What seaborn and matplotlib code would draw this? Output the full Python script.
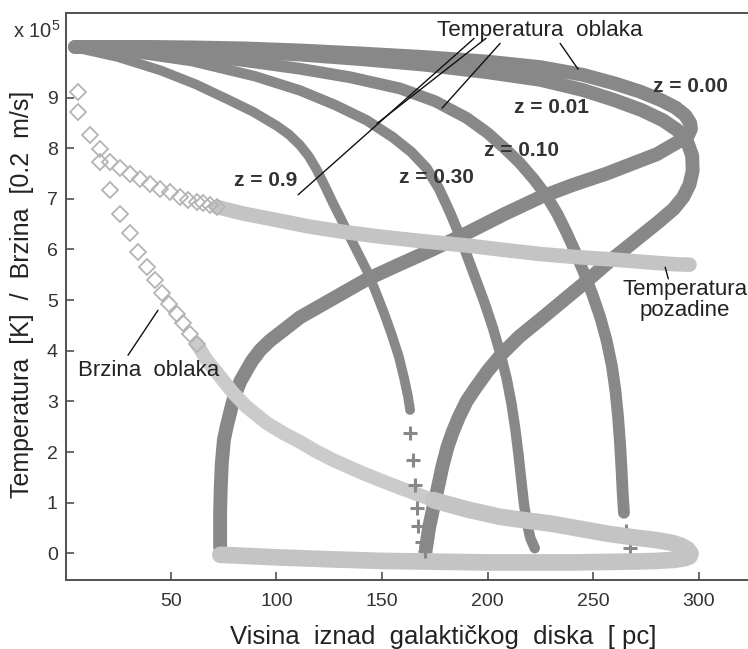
import matplotlib
matplotlib.use("Agg")
import matplotlib.pyplot as plt
import seaborn as sns

# ---------------- data (temperature / velocity in units of 1e5) ----------------
# cloud temperature, z = 0.00 (goes round the loop and returns to ~73 pc)
z000_x = [4.7, 20, 40, 60, 85, 111, 140, 170, 200, 225, 245, 260, 272, 282, 289, 293.5,
          295.8, 296.2, 295, 292, 287, 280, 270, 256.4, 240, 224.8, 208, 190, 174,
          158.5, 142.8, 126.8, 111.2, 103.2, 97, 92.3, 88.5, 86.0, 83, 80.9, 79.3,
          78.1, 76.5, 75.2, 74.2, 73.7, 73.4, 73.4]
z000_y = [10.0, 10.0, 10.0, 9.99, 9.97, 9.93, 9.87, 9.80, 9.71, 9.60, 9.45, 9.28, 9.12,
          8.95, 8.80, 8.65, 8.50, 8.38, 8.27, 8.17, 8.05, 7.88, 7.72, 7.50, 7.27, 7.03,
          6.70, 6.32, 6.00, 5.71, 5.41, 5.03, 4.66, 4.40, 4.20, 4.01, 3.80, 3.62, 3.40,
          3.18, 2.97, 2.77, 2.50, 2.24, 1.78, 1.30, 0.80, 0.12]
# z = 0.01 (loop, returns to ~171 pc)
z001_x = [4.7, 30, 60, 85, 111, 140, 170, 200, 225, 245, 260, 273, 283, 290, 294.5,
          296.8, 297, 295.5, 292.5, 288, 281, 270, 258, 247, 236, 225, 215, 207, 200,
          194, 190, 186.5, 183.5, 181, 178.5, 176.2, 174.3, 172.4, 170.8]
z001_y = [10.0, 9.99, 9.95, 9.91, 9.85, 9.76, 9.65, 9.50, 9.35, 9.15, 8.95, 8.75, 8.55,
          8.35, 8.12, 7.85, 7.55, 7.28, 7.03, 6.80, 6.55, 6.18, 5.78, 5.38, 5.00, 4.62,
          4.28, 3.95, 3.60, 3.25, 3.00, 2.70, 2.40, 2.10, 1.70, 1.25, 0.90, 0.53, 0.10]
# z = 0.10
z010_x = [4.7, 30, 60, 85, 111, 135, 158.5, 175, 190, 200, 208, 215, 222, 228, 233,
          237.5, 241.5, 245.5, 249.5, 253.2, 256.3, 258.8, 260.5, 261.7, 262.6, 263.3,
          263.9, 264.5]
z010_y = [10.0, 9.94, 9.84, 9.72, 9.57, 9.40, 9.18, 8.93, 8.60, 8.30, 8.00, 7.72, 7.38,
          7.05, 6.70, 6.32, 5.95, 5.55, 5.12, 4.67, 4.20, 3.70, 3.20, 2.70, 2.20, 1.70,
          1.20, 0.80]
z010_tail_x = [265.6, 267.2]
z010_tail_y = [0.45, 0.1]
# z = 0.30
z030_x = [4.7, 30, 60, 90, 111.2, 128, 142.8, 155, 164, 171.2, 177, 182, 186.5, 190.5,
          194.5, 198.5, 202.5, 206, 209, 211.3, 213.1, 214.6, 215.9, 217.1, 218.5,
          220.2, 222.3]
z030_y = [10.0, 9.90, 9.72, 9.42, 9.14, 8.85, 8.55, 8.22, 7.92, 7.60, 7.20, 6.75, 6.30,
          5.85, 5.40, 4.95, 4.45, 3.95, 3.45, 2.95, 2.45, 1.95, 1.45, 1.00, 0.62, 0.30,
          0.10]
# z = 0.9
z09_x = [4.7, 25, 45, 62, 76.7, 89, 100.3, 106, 111.2, 115.2, 118.8, 123, 127, 131,
         135, 139, 143, 147, 151, 154.5, 158, 160.5, 162.3, 163.3]
z09_y = [9.99, 9.80, 9.54, 9.26, 8.97, 8.72, 8.44, 8.27, 8.06, 7.85, 7.60, 7.25, 6.90,
         6.57, 6.23, 5.90, 5.57, 5.17, 4.74, 4.33, 3.88, 3.45, 3.10, 2.83]
z09_tail_x = [163.3, 164.7, 165.6, 166.4, 167.2, 168.8, 170.4]
z09_tail_y = [2.37, 1.84, 1.35, 0.90, 0.53, 0.23, 0.04]

# cloud velocity (open diamonds, then dense band that loops back near 0)
vel_d_x = [6.3, 11.8, 16.6, 21.3, 26.0, 30.8, 34.7, 38.7, 42.6, 45.8, 49.2, 52.9,
           56.0, 59.2, 62.3]
vel_d_y = [9.11, 8.26, 7.73, 7.17, 6.70, 6.32, 5.95, 5.66, 5.39, 5.15, 4.92, 4.73,
           4.54, 4.34, 4.14]
vel_a_x = [62.3, 67.0, 73.4, 79.7, 86.0, 95.5, 103, 111.2, 119, 127.0, 135, 142.8, 158,
           174.3]
vel_a_y = [4.14, 3.82, 3.49, 3.16, 2.89, 2.57, 2.38, 2.20, 2.01, 1.84, 1.69, 1.55, 1.30,
           1.05]
vel_b_x = [174.3, 190, 205.9, 218, 229.5, 243, 256.4, 270, 280, 287, 291.5, 294.5, 296,
           295.5, 293, 288, 280, 272, 240, 200, 150, 127, 100, 80, 73.5]
vel_b_y = [1.05, 0.87, 0.72, 0.65, 0.59, 0.49, 0.39, 0.31, 0.26, 0.21, 0.15, 0.08, 0.0,
           -0.06, -0.10, -0.13, -0.15, -0.16, -0.18, -0.18, -0.15, -0.12, -0.08, -0.04,
           -0.03]

# background temperature
bg_d_x = [6.3, 16.6, 21.3, 26.0, 30.8, 35.5, 40.2, 45.0, 49.7, 54.4, 58.4, 62.3, 65.4,
          68.6, 71.8]
bg_d_y = [8.72, 7.99, 7.72, 7.60, 7.50, 7.40, 7.30, 7.20, 7.14, 7.04, 6.98, 6.94,
          6.91, 6.87, 6.84]
bg_x = [71.8, 84.4, 100.2, 116, 133, 150, 170, 190, 208, 225, 242, 260, 275, 288, 295.5]
bg_y = [6.84, 6.71, 6.58, 6.45, 6.34, 6.25, 6.16, 6.08, 5.99, 5.91, 5.85, 5.80, 5.75,
        5.71, 5.70]

x_ticks = [50, 100, 150, 200, 250, 300]
y_ticks = [0, 1, 2, 3, 4, 5, 6, 7, 8, 9]

# ---------------- style ----------------
sns.set_theme(style="white")
plt.rcParams["font.family"] = ["Liberation Sans", "DejaVu Sans"]
plt.rcParams["mathtext.default"] = "regular"

DARK = "#888888"
LIGHT = "#c4c4c4"
LIGHT_A = "#cbcbcb"
DIAM = "#b4b4b4"
TXT = "#222222"

W, H = 748, 649
fig = plt.figure(figsize=(W / 100, H / 100), dpi=100)
ax = fig.add_axes([66 / W, 1 - 580 / H, (W - 66) / W, (580 - 13) / H])


def band(x, y, color, lw, z):
    sns.lineplot(x=x, y=y, sort=False, estimator=None, color=color, lw=lw, ax=ax,
                 solid_capstyle="round", solid_joinstyle="round", zorder=z)


def crosses(x, y, z):
    sns.lineplot(x=x, y=y, sort=False, estimator=None, color=DARK, linestyle="",
                 marker="+", ms=10, mew=2.2, mec=DARK, ax=ax, zorder=z)


def diamonds(x, y, z):
    sns.lineplot(x=x, y=y, sort=False, estimator=None, color=DIAM, linestyle="",
                 marker="D", ms=8, mew=1.3, mec=DIAM, mfc="none", ax=ax, zorder=z)


band(z000_x, z000_y, DARK, 10, 2)
band(z001_x, z001_y, DARK, 10, 2)
band(z010_x, z010_y, DARK, 8.5, 2)
band(z030_x, z030_y, DARK, 7.5, 2)
band(z09_x, z09_y, DARK, 7, 2)
crosses(z09_tail_x, z09_tail_y, 5)
crosses(z010_tail_x, z010_tail_y, 2)

band(bg_x, bg_y, LIGHT, 10.5, 3)
band(vel_a_x, vel_a_y, LIGHT_A, 10, 3)
band(vel_b_x, vel_b_y, LIGHT, 12, 3)
diamonds(bg_d_x, bg_d_y, 3)
diamonds(vel_d_x, vel_d_y, 3)

# ---------------- axes ----------------
ax.set_xlim(0.47, 323.2)
ax.set_ylim(-0.527, 10.67)
ax.set_xticks(x_ticks)
ax.set_yticks(y_ticks)
ax.set_xlabel("")
ax.set_ylabel("")
for s in ["top", "left", "bottom"]:
    ax.spines[s].set_color("#505050")
    ax.spines[s].set_linewidth(1.4)
ax.spines["right"].set_visible(False)
ax.tick_params(direction="in", length=6, width=1.2, color="#505050",
               labelcolor="#333333", labelsize=14)
ax.tick_params(axis="x", pad=9)
ax.tick_params(axis="y", pad=6)
ax.tick_params(bottom=True, left=True)

fig.text(13 / W, 1 - 38 / H, r"x 10$^5$", fontsize=14.5, color="#333333",
         va="baseline", ha="left")
fig.text(443 / W, 1 - 637 / H, "Visina  iznad  galaktičkog  diska  [ pc]",
         fontsize=18.5, color=TXT, ha="center", va="center")
fig.text(22 / W, 1 - 294 / H, "Temperatura  [K]  /  Brzina  [0.2  m/s]",
         fontsize=18, color=TXT, ha="center", va="center", rotation=90)

# ---------------- annotations ----------------
line_kw = dict(arrowstyle="-", color="#111111", lw=1.0, shrinkA=0, shrinkB=0)
ax.text(224.8, 10.33, "Temperatura  oblaka", fontsize=16.2, color=TXT,
        ha="center", va="center")
ax.annotate("", xy=(110.3, 7.08), xytext=(193.6, 10.17), arrowprops=line_kw)
ax.annotate("", xy=(147.7, 8.49), xytext=(199.2, 10.17), arrowprops=line_kw)
ax.annotate("", xy=(178.4, 8.79), xytext=(205.9, 10.07), arrowprops=line_kw)
ax.annotate("", xy=(242.8, 9.56), xytext=(234.3, 10.07), arrowprops=line_kw)

zkw = dict(fontsize=15, fontweight="bold", color="#333333", ha="center",
           va="center")
ax.text(295.8, 9.21, "z = 0.00", **zkw)
ax.text(230.3, 8.80, "z = 0.01", **zkw)
ax.text(215.8, 7.96, "z = 0.10", **zkw)
ax.text(175.6, 7.42, "z = 0.30", **zkw)
ax.text(95.1, 7.37, "z = 0.9", **zkw)

ax.text(39.5, 3.62, "Brzina  oblaka", fontsize=16, color=TXT, ha="center",
        va="center")
ax.annotate("", xy=(44.0, 4.8), xytext=(29.8, 3.91), arrowprops=line_kw)

ax.text(293.4, 5.0, "Temperatura\npozadine", fontsize=16, color=TXT,
        ha="center", va="center", linespacing=1.0, zorder=6)
ax.annotate("", xy=(284.0, 5.65), xytext=(285.5, 5.42), arrowprops=line_kw)

fig.savefig("out.png", dpi=100)
